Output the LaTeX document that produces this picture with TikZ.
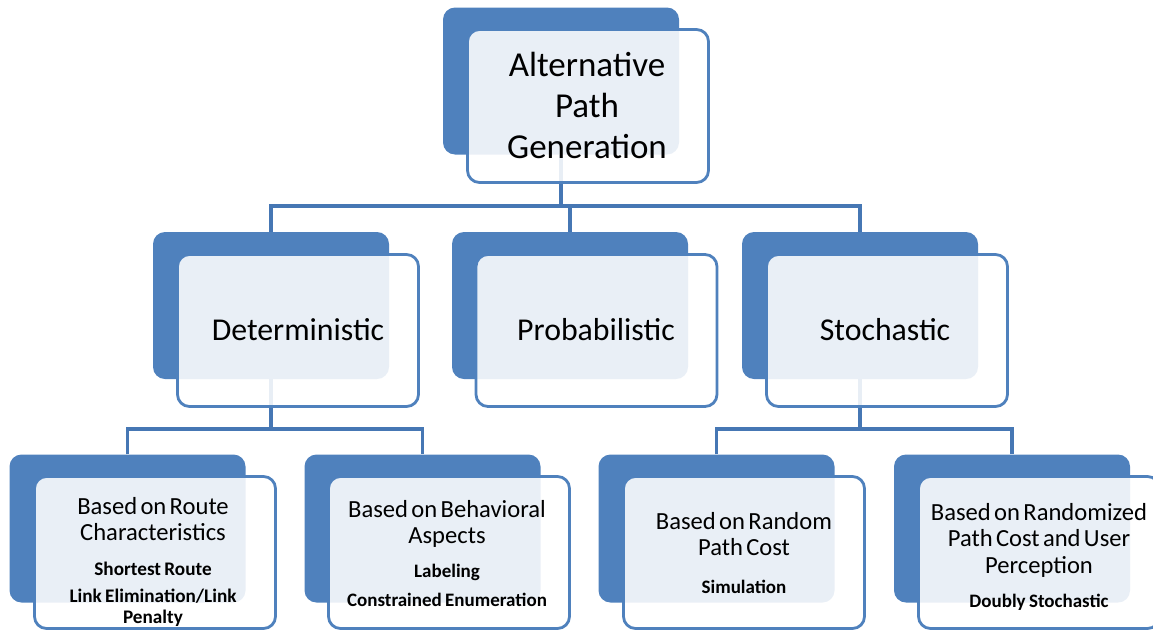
\documentclass[tikz,border=0pt]{standalone}
\usepackage{fontspec}
\setmainfont{Carlito}

\definecolor{boxblue}{HTML}{4F81BD}
\definecolor{linkblue}{HTML}{4677B4}

\tikzset{
  back/.style={fill=boxblue, rounded corners=12pt, minimum width=236pt, minimum height=147pt, inner sep=0pt},
  front/.style={draw=boxblue, line width=2.8pt, fill=white, fill opacity=0.88, rounded corners=12pt,
    minimum width=241pt, minimum height=152pt, inner sep=0pt},
  conn/.style={draw=linkblue, line width=3.5pt},
  head/.style={font=\fontsize{31.8}{36}\selectfont, inner sep=0pt},
  leaf/.style={text width=240pt, align=center, inner sep=0pt},
}

\begin{document}
\begin{tikzpicture}[x=1pt, y=-1pt]
  \useasboundingbox (0,0) rectangle (1153,632);

  % 底层色块
  \node[back] (apgB) at (561,81) {};
  \node[back] (detB) at (271,305.5) {};
  \node[back] (proB) at (570,305.5) {};
  \node[back] (stoB) at (860,305.5) {};
  \node[back, minimum height=148pt] (rcB) at (127.5,528.5) {};
  \node[back, minimum height=148pt] (baB) at (422.5,528.5) {};
  \node[back, minimum height=148pt] (rpB) at (716.5,528.5) {};
  \node[back, minimum height=148pt] (rpuB) at (1012,528.5) {};

  % 连接线
  \coordinate (bar1) at (0,206);
  \coordinate (bar2) at (0,429);
  \draw[conn] (apgB.south) -- (apgB.south |- bar1);
  \draw[conn] (detB.north) |- (stoB.north |- bar1) -- (stoB.north);
  \draw[conn] (proB.north) -- (proB.north |- bar1);
  \draw[conn] (detB.south) -- (detB.south |- bar2);
  \draw[conn] (rcB.north) |- (baB.north |- bar2) -- (baB.north);
  \draw[conn] (stoB.south) -- (stoB.south |- bar2);
  \draw[conn] (rpB.north) |- (rpuB.north |- bar2) -- (rpuB.north);

  % 前层方框
  \node[front, minimum height=153pt] (apg) at (588,106) {};
  \node[front] (det) at (298,330.5) {};
  \node[front] (pro) at (596.5,330.5) {};
  \node[front] (sto) at (887,330.5) {};
  \node[front] (rc) at (155,552.5) {};
  \node[front] (ba) at (449,552.5) {};
  \node[front] (rp) at (744,552.5) {};
  \node[front] (rpu) at (1039,552.5) {};

  % 文字
  \node[align=center, font=\fontsize{35}{41}\selectfont, inner sep=0pt] (apgT) at (587,105)
    {Alternative\\Path\\Generation};
  \node[head] (detT) at (298,330) {Deterministic};
  \node[head] (proT) at (596,330) {Probabilistic};
  \node[head] (stoT) at (885,330) {Stochastic};

  \node[leaf] (rcT) at (153,561.5) {\fontsize{24.6}{26}\selectfont Based on Route\\Characteristics\par
    \vspace{14pt}\bfseries\fontsize{19.2}{21}\selectfont Shortest Route\par
    \vspace{6pt}Link Elimination/Link\\Penalty\par};
  \node[leaf] (baT) at (447,553.5) {\fontsize{24.6}{26}\selectfont Based on Behavioral\\Aspects\par
    \vspace{13pt}\bfseries\fontsize{19}{21}\selectfont Labeling\par
    \vspace{8pt}Constrained Enumeration\par};
  \node[leaf] (rpT) at (744,553.5) {\fontsize{24.6}{26}\selectfont Based on Random\\Path Cost\par
    \vspace{17pt}\bfseries\fontsize{19}{21}\selectfont Simulation\par};
  \node[leaf] (rpuT) at (1039,556.5) {\fontsize{24.6}{26.5}\selectfont Based on Randomized\\Path Cost and User\\Perception\par
    \vspace{13pt}\bfseries\fontsize{19}{21}\selectfont Doubly Stochastic\par};
\end{tikzpicture}
\end{document}
